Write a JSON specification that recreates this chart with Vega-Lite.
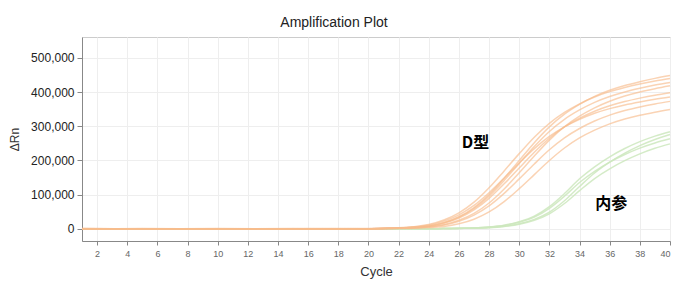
{
"$schema": "https://vega.github.io/schema/vega-lite/v6.json",
"width": 588,
"height": 204,
"autosize": {"type": "none"},
"padding": {"left": 82, "top": 37, "right": 5, "bottom": 43},
"background": "white",
"title": {"text": "Amplification Plot", "fontSize": 14, "fontWeight": "normal", "color": "#222222", "font": "Liberation Sans", "offset": 7, "dx": -42},
"config": {
  "view": {"stroke": "#cccccc"},
  "axis": {"domainColor": "#888888", "tickColor": "#888888", "gridColor": "#eeeeee", "font": "Liberation Sans", "labelFont": "Liberation Sans", "titleFont": "Liberation Sans", "titleFontWeight": "normal"}
},
"datasets": {
"curves": [
{"g":"D","s":"D1","c":1,"v":300},{"g":"D","s":"D1","c":5,"v":-200},{"g":"D","s":"D1","c":10,"v":100},{"g":"D","s":"D1","c":15,"v":-300},{"g":"D","s":"D1","c":20,"v":200},{"g":"D","s":"D1","c":21,"v":900},{"g":"D","s":"D1","c":22,"v":1800},{"g":"D","s":"D1","c":23,"v":4000},{"g":"D","s":"D1","c":24,"v":8100},{"g":"D","s":"D1","c":25,"v":17900},{"g":"D","s":"D1","c":26,"v":34900},{"g":"D","s":"D1","c":27,"v":61800},{"g":"D","s":"D1","c":28,"v":99900},{"g":"D","s":"D1","c":29,"v":147800},{"g":"D","s":"D1","c":30,"v":199800},{"g":"D","s":"D1","c":31,"v":251800},{"g":"D","s":"D1","c":32,"v":297900},{"g":"D","s":"D1","c":33,"v":335100},{"g":"D","s":"D1","c":34,"v":363800},{"g":"D","s":"D1","c":35,"v":387100},{"g":"D","s":"D1","c":36,"v":405000},{"g":"D","s":"D1","c":37,"v":418900},{"g":"D","s":"D1","c":38,"v":430100},{"g":"D","s":"D1","c":39,"v":439900},{"g":"D","s":"D1","c":40,"v":448000},
{"g":"D","s":"D2","c":1,"v":-200},{"g":"D","s":"D2","c":5,"v":300},{"g":"D","s":"D2","c":10,"v":-100},{"g":"D","s":"D2","c":15,"v":200},{"g":"D","s":"D2","c":20,"v":-300},{"g":"D","s":"D2","c":21,"v":1300},{"g":"D","s":"D2","c":22,"v":2600},{"g":"D","s":"D2","c":23,"v":5700},{"g":"D","s":"D2","c":24,"v":12200},{"g":"D","s":"D2","c":25,"v":25300},{"g":"D","s":"D2","c":26,"v":46200},{"g":"D","s":"D2","c":27,"v":77600},{"g":"D","s":"D2","c":28,"v":119900},{"g":"D","s":"D2","c":29,"v":169200},{"g":"D","s":"D2","c":30,"v":219700},{"g":"D","s":"D2","c":31,"v":267700},{"g":"D","s":"D2","c":32,"v":308300},{"g":"D","s":"D2","c":33,"v":340100},{"g":"D","s":"D2","c":34,"v":365400},{"g":"D","s":"D2","c":35,"v":385400},{"g":"D","s":"D2","c":36,"v":401100},{"g":"D","s":"D2","c":37,"v":413300},{"g":"D","s":"D2","c":38,"v":423400},{"g":"D","s":"D2","c":39,"v":432100},{"g":"D","s":"D2","c":40,"v":439500},
{"g":"D","s":"D3","c":1,"v":100},{"g":"D","s":"D3","c":5,"v":-400},{"g":"D","s":"D3","c":10,"v":300},{"g":"D","s":"D3","c":15,"v":0},{"g":"D","s":"D3","c":20,"v":100},{"g":"D","s":"D3","c":21,"v":900},{"g":"D","s":"D3","c":22,"v":1700},{"g":"D","s":"D3","c":23,"v":3900},{"g":"D","s":"D3","c":24,"v":7700},{"g":"D","s":"D3","c":25,"v":17100},{"g":"D","s":"D3","c":26,"v":33400},{"g":"D","s":"D3","c":27,"v":59100},{"g":"D","s":"D3","c":28,"v":95400},{"g":"D","s":"D3","c":29,"v":141200},{"g":"D","s":"D3","c":30,"v":190900},{"g":"D","s":"D3","c":31,"v":240500},{"g":"D","s":"D3","c":32,"v":284600},{"g":"D","s":"D3","c":33,"v":320100},{"g":"D","s":"D3","c":34,"v":347500},{"g":"D","s":"D3","c":35,"v":369800},{"g":"D","s":"D3","c":36,"v":386900},{"g":"D","s":"D3","c":37,"v":400200},{"g":"D","s":"D3","c":38,"v":410900},{"g":"D","s":"D3","c":39,"v":420300},{"g":"D","s":"D3","c":40,"v":428000},
{"g":"D","s":"D4","c":1,"v":-300},{"g":"D","s":"D4","c":5,"v":100},{"g":"D","s":"D4","c":10,"v":-200},{"g":"D","s":"D4","c":15,"v":300},{"g":"D","s":"D4","c":20,"v":-100},{"g":"D","s":"D4","c":21,"v":400},{"g":"D","s":"D4","c":22,"v":1300},{"g":"D","s":"D4","c":23,"v":2500},{"g":"D","s":"D4","c":24,"v":5500},{"g":"D","s":"D4","c":25,"v":11800},{"g":"D","s":"D4","c":26,"v":24500},{"g":"D","s":"D4","c":27,"v":44700},{"g":"D","s":"D4","c":28,"v":75100},{"g":"D","s":"D4","c":29,"v":116100},{"g":"D","s":"D4","c":30,"v":163700},{"g":"D","s":"D4","c":31,"v":212700},{"g":"D","s":"D4","c":32,"v":259100},{"g":"D","s":"D4","c":33,"v":298400},{"g":"D","s":"D4","c":34,"v":329200},{"g":"D","s":"D4","c":35,"v":353600},{"g":"D","s":"D4","c":36,"v":373000},{"g":"D","s":"D4","c":37,"v":388200},{"g":"D","s":"D4","c":38,"v":400100},{"g":"D","s":"D4","c":39,"v":409800},{"g":"D","s":"D4","c":40,"v":418200},
{"g":"D","s":"D5","c":1,"v":400},{"g":"D","s":"D5","c":5,"v":0},{"g":"D","s":"D5","c":10,"v":-300},{"g":"D","s":"D5","c":15,"v":100},{"g":"D","s":"D5","c":20,"v":300},{"g":"D","s":"D5","c":21,"v":800},{"g":"D","s":"D5","c":22,"v":1600},{"g":"D","s":"D5","c":23,"v":3600},{"g":"D","s":"D5","c":24,"v":7200},{"g":"D","s":"D5","c":25,"v":15900},{"g":"D","s":"D5","c":26,"v":31000},{"g":"D","s":"D5","c":27,"v":54900},{"g":"D","s":"D5","c":28,"v":88800},{"g":"D","s":"D5","c":29,"v":131300},{"g":"D","s":"D5","c":30,"v":177500},{"g":"D","s":"D5","c":31,"v":223700},{"g":"D","s":"D5","c":32,"v":264700},{"g":"D","s":"D5","c":33,"v":297700},{"g":"D","s":"D5","c":34,"v":323200},{"g":"D","s":"D5","c":35,"v":343900},{"g":"D","s":"D5","c":36,"v":359800},{"g":"D","s":"D5","c":37,"v":372100},{"g":"D","s":"D5","c":38,"v":382100},{"g":"D","s":"D5","c":39,"v":390800},{"g":"D","s":"D5","c":40,"v":398000},
{"g":"D","s":"D6","c":1,"v":0},{"g":"D","s":"D6","c":5,"v":-300},{"g":"D","s":"D6","c":10,"v":200},{"g":"D","s":"D6","c":15,"v":-100},{"g":"D","s":"D6","c":20,"v":0},{"g":"D","s":"D6","c":21,"v":1100},{"g":"D","s":"D6","c":22,"v":2300},{"g":"D","s":"D6","c":23,"v":5000},{"g":"D","s":"D6","c":24,"v":10700},{"g":"D","s":"D6","c":25,"v":22200},{"g":"D","s":"D6","c":26,"v":40500},{"g":"D","s":"D6","c":27,"v":68000},{"g":"D","s":"D6","c":28,"v":105100},{"g":"D","s":"D6","c":29,"v":148200},{"g":"D","s":"D6","c":30,"v":192500},{"g":"D","s":"D6","c":31,"v":234500},{"g":"D","s":"D6","c":32,"v":270100},{"g":"D","s":"D6","c":33,"v":298000},{"g":"D","s":"D6","c":34,"v":320100},{"g":"D","s":"D6","c":35,"v":337700},{"g":"D","s":"D6","c":36,"v":351400},{"g":"D","s":"D6","c":37,"v":362100},{"g":"D","s":"D6","c":38,"v":370900},{"g":"D","s":"D6","c":39,"v":378600},{"g":"D","s":"D6","c":40,"v":385100},
{"g":"D","s":"D7","c":1,"v":-100},{"g":"D","s":"D7","c":5,"v":200},{"g":"D","s":"D7","c":10,"v":0},{"g":"D","s":"D7","c":15,"v":-200},{"g":"D","s":"D7","c":20,"v":-200},{"g":"D","s":"D7","c":21,"v":400},{"g":"D","s":"D7","c":22,"v":1100},{"g":"D","s":"D7","c":23,"v":2300},{"g":"D","s":"D7","c":24,"v":4900},{"g":"D","s":"D7","c":25,"v":10500},{"g":"D","s":"D7","c":26,"v":21800},{"g":"D","s":"D7","c":27,"v":39900},{"g":"D","s":"D7","c":28,"v":66900},{"g":"D","s":"D7","c":29,"v":103400},{"g":"D","s":"D7","c":30,"v":145900},{"g":"D","s":"D7","c":31,"v":189500},{"g":"D","s":"D7","c":32,"v":230900},{"g":"D","s":"D7","c":33,"v":265800},{"g":"D","s":"D7","c":34,"v":293300},{"g":"D","s":"D7","c":35,"v":315100},{"g":"D","s":"D7","c":36,"v":332400},{"g":"D","s":"D7","c":37,"v":345900},{"g":"D","s":"D7","c":38,"v":356400},{"g":"D","s":"D7","c":39,"v":365100},{"g":"D","s":"D7","c":40,"v":372600},
{"g":"D","s":"D8","c":1,"v":200},{"g":"D","s":"D8","c":5,"v":-100},{"g":"D","s":"D8","c":10,"v":-200},{"g":"D","s":"D8","c":15,"v":200},{"g":"D","s":"D8","c":20,"v":0},{"g":"D","s":"D8","c":21,"v":200},{"g":"D","s":"D8","c":22,"v":700},{"g":"D","s":"D8","c":23,"v":1400},{"g":"D","s":"D8","c":24,"v":3200},{"g":"D","s":"D8","c":25,"v":6400},{"g":"D","s":"D8","c":26,"v":14200},{"g":"D","s":"D8","c":27,"v":27700},{"g":"D","s":"D8","c":28,"v":49000},{"g":"D","s":"D8","c":29,"v":79200},{"g":"D","s":"D8","c":30,"v":117200},{"g":"D","s":"D8","c":31,"v":158300},{"g":"D","s":"D8","c":32,"v":199500},{"g":"D","s":"D8","c":33,"v":236100},{"g":"D","s":"D8","c":34,"v":265500},{"g":"D","s":"D8","c":35,"v":288300},{"g":"D","s":"D8","c":36,"v":306700},{"g":"D","s":"D8","c":37,"v":320900},{"g":"D","s":"D8","c":38,"v":331900},{"g":"D","s":"D8","c":39,"v":340800},{"g":"D","s":"D8","c":40,"v":348600},
{"g":"N","s":"N1","c":1,"v":-400},{"g":"N","s":"N1","c":8,"v":-200},{"g":"N","s":"N1","c":16,"v":-500},{"g":"N","s":"N1","c":24,"v":-300},{"g":"N","s":"N1","c":25,"v":600},{"g":"N","s":"N1","c":26,"v":1100},{"g":"N","s":"N1","c":27,"v":2300},{"g":"N","s":"N1","c":28,"v":5100},{"g":"N","s":"N1","c":29,"v":10200},{"g":"N","s":"N1","c":30,"v":20200},{"g":"N","s":"N1","c":31,"v":36400},{"g":"N","s":"N1","c":32,"v":64500},{"g":"N","s":"N1","c":33,"v":102800},{"g":"N","s":"N1","c":34,"v":146000},{"g":"N","s":"N1","c":35,"v":181200},{"g":"N","s":"N1","c":36,"v":210400},{"g":"N","s":"N1","c":37,"v":234600},{"g":"N","s":"N1","c":38,"v":254700},{"g":"N","s":"N1","c":39,"v":270900},{"g":"N","s":"N1","c":40,"v":284000},
{"g":"N","s":"N2","c":1,"v":-600},{"g":"N","s":"N2","c":8,"v":-300},{"g":"N","s":"N2","c":16,"v":-400},{"g":"N","s":"N2","c":24,"v":-500},{"g":"N","s":"N2","c":25,"v":300},{"g":"N","s":"N2","c":26,"v":800},{"g":"N","s":"N2","c":27,"v":1700},{"g":"N","s":"N2","c":28,"v":3400},{"g":"N","s":"N2","c":29,"v":7300},{"g":"N","s":"N2","c":30,"v":14700},{"g":"N","s":"N2","c":31,"v":27400},{"g":"N","s":"N2","c":32,"v":48500},{"g":"N","s":"N2","c":33,"v":81800},{"g":"N","s":"N2","c":34,"v":123500},{"g":"N","s":"N2","c":35,"v":163000},{"g":"N","s":"N2","c":36,"v":194600},{"g":"N","s":"N2","c":37,"v":221100},{"g":"N","s":"N2","c":38,"v":243100},{"g":"N","s":"N2","c":39,"v":261100},{"g":"N","s":"N2","c":40,"v":275500},
{"g":"N","s":"N3","c":1,"v":-300},{"g":"N","s":"N3","c":8,"v":-500},{"g":"N","s":"N3","c":16,"v":-300},{"g":"N","s":"N3","c":24,"v":-400},{"g":"N","s":"N3","c":25,"v":500},{"g":"N","s":"N3","c":26,"v":1100},{"g":"N","s":"N3","c":27,"v":2100},{"g":"N","s":"N3","c":28,"v":4700},{"g":"N","s":"N3","c":29,"v":9500},{"g":"N","s":"N3","c":30,"v":18700},{"g":"N","s":"N3","c":31,"v":33700},{"g":"N","s":"N3","c":32,"v":59700},{"g":"N","s":"N3","c":33,"v":95200},{"g":"N","s":"N3","c":34,"v":135200},{"g":"N","s":"N3","c":35,"v":167800},{"g":"N","s":"N3","c":36,"v":194900},{"g":"N","s":"N3","c":37,"v":217200},{"g":"N","s":"N3","c":38,"v":235900},{"g":"N","s":"N3","c":39,"v":250900},{"g":"N","s":"N3","c":40,"v":263000},
{"g":"N","s":"N4","c":1,"v":-500},{"g":"N","s":"N4","c":8,"v":-400},{"g":"N","s":"N4","c":16,"v":-600},{"g":"N","s":"N4","c":24,"v":-400},{"g":"N","s":"N4","c":25,"v":300},{"g":"N","s":"N4","c":26,"v":800},{"g":"N","s":"N4","c":27,"v":1500},{"g":"N","s":"N4","c":28,"v":3000},{"g":"N","s":"N4","c":29,"v":6600},{"g":"N","s":"N4","c":30,"v":13200},{"g":"N","s":"N4","c":31,"v":24600},{"g":"N","s":"N4","c":32,"v":43700},{"g":"N","s":"N4","c":33,"v":73700},{"g":"N","s":"N4","c":34,"v":111300},{"g":"N","s":"N4","c":35,"v":146800},{"g":"N","s":"N4","c":36,"v":175300},{"g":"N","s":"N4","c":37,"v":199100},{"g":"N","s":"N4","c":38,"v":219000},{"g":"N","s":"N4","c":39,"v":235200},{"g":"N","s":"N4","c":40,"v":248200}
],
"labels": [
{"c":27.1,"v":251000,"t":"D型"},
{"c":36.1,"v":71000,"t":"内参"}
]
},
"encoding": {
  "x": {"field": "c", "type": "quantitative", "scale": {"domain": [1, 40], "nice": false, "zero": false},
        "axis": {"values": [2,4,6,8,10,12,14,16,18,20,22,24,26,28,30,32,34,36,38,40], "title": "Cycle", "titleFontSize": 13, "titleColor": "#333333", "titlePadding": 7, "labelFontSize": 9, "labelColor": "#666666", "tickSize": 4, "labelPadding": 4, "grid": true}},
  "y": {"field": "v", "type": "quantitative", "scale": {"domain": [-36000, 561000], "nice": false, "zero": false},
        "axis": {"values": [0,100000,200000,300000,400000,500000], "format": ",d", "title": "ΔRn", "titleFontSize": 12, "titleColor": "#333333", "titlePadding": 9, "labelFontSize": 12, "labelColor": "#222222", "tickSize": 5, "labelPadding": 3, "grid": true}}
},
"layer": [
  {"data": {"name": "curves"}, "transform": [{"filter": "datum.g === 'N'"}],
   "mark": {"type": "line", "color": "#cde8bd", "strokeWidth": 1.5, "opacity": 0.85, "interpolate": "monotone"},
   "encoding": {"detail": {"field": "s"}}},
  {"data": {"name": "curves"}, "transform": [{"filter": "datum.g === 'D'"}],
   "mark": {"type": "line", "color": "#f7bb8c", "strokeWidth": 1.5, "opacity": 0.65, "interpolate": "monotone"},
   "encoding": {"detail": {"field": "s"}}},
  {"data": {"name": "labels"},
   "mark": {"type": "text", "font": "Noto Sans CJK SC", "fontWeight": "bold", "fontSize": 16, "color": "#000000", "align": "center", "baseline": "middle"},
   "encoding": {"text": {"field": "t"}}}
]
}
